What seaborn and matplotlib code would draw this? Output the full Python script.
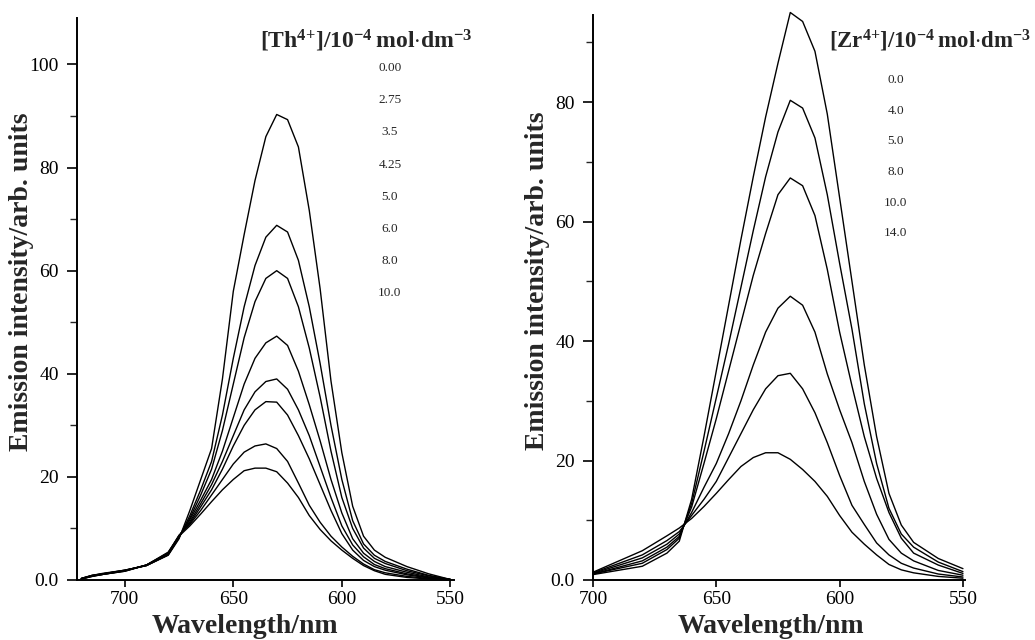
import matplotlib
matplotlib.use("Agg")
import matplotlib.pyplot as plt
import seaborn as sns
import pandas as pd
from matplotlib.ticker import MultipleLocator, FuncFormatter

# wavelength grids (nm)
wl_th = [720, 715, 710, 700, 690, 680, 675, 670, 665, 660, 655, 650, 645, 640, 635,
         630, 625, 620, 615, 610, 605, 600, 595, 590, 585, 580, 570, 560, 550]
wl_zr = [700, 690, 680, 670, 665, 660, 655, 650, 645, 640, 635, 630, 625,
         620, 615, 610, 605, 600, 595, 590, 585, 580, 575, 570, 560, 550]

# [Th4+] series
th_conc = ["0.00", "2.75", "3.5", "4.25", "5.0", "6.0", "8.0", "10.0"]
th_000 = [0.3, 0.9, 1.3, 1.9, 2.8, 4.8, 8.0, 13.5, 19.5, 25.5, 39, 56, 67, 77.5, 86,
          90.3, 89.3, 84, 71.7, 56.5, 38.6, 24.7, 14.3, 8.5, 5.8, 4.4, 2.6, 1.2, 0.1]
th_275 = [0.3, 0.9, 1.2, 1.9, 2.8, 4.9, 8.2, 12.5, 17.5, 23, 32, 43, 53, 61, 66.5,
          68.8, 67.5, 62, 53, 42, 30, 19.5, 11.5, 7, 4.8, 3.6, 2.1, 0.9, 0.1]
th_350 = [0.3, 0.9, 1.2, 1.9, 2.8, 4.9, 8.3, 12, 16.5, 21.5, 29, 38, 47, 54, 58.5,
          60, 58.5, 53, 45, 35.5, 25, 16, 10, 6.2, 4.2, 3.2, 1.8, 0.8, 0.1]
th_425 = [0.3, 0.8, 1.2, 1.8, 2.9, 5.0, 8.4, 11.7, 15.5, 19.5, 25, 31.5, 38, 43, 46,
          47.3, 45.5, 40.5, 34, 27, 19.5, 13, 8, 5.2, 3.6, 2.6, 1.5, 0.6, 0.1]
th_500 = [0.2, 0.8, 1.1, 1.8, 2.9, 5.1, 8.5, 11.3, 14.8, 18.5, 23, 28, 33, 36.5, 38.5,
          39, 37, 33, 28, 22, 16, 10.5, 6.8, 4.5, 3, 2.2, 1.2, 0.5, 0.1]
th_600 = [0.2, 0.8, 1.1, 1.8, 2.9, 5.2, 8.6, 11, 14.2, 17.5, 21.5, 26, 30, 33, 34.6,
          34.5, 32, 28, 23.5, 18.5, 13.5, 9, 5.8, 3.8, 2.6, 1.9, 1.0, 0.4, 0.1]
th_800 = [0.2, 0.7, 1.1, 1.7, 2.9, 5.3, 8.7, 10.8, 13.5, 16.5, 19.5, 22.5, 24.8, 26, 26.4,
          25.5, 23, 18.8, 14.5, 11.2, 8.5, 6.4, 4.6, 3.1, 2.0, 1.4, 0.7, 0.3, 0.0]
th_1000 = [0.2, 0.7, 1.1, 1.7, 2.9, 5.4, 8.5, 10.5, 12.8, 15.2, 17.5, 19.5, 21.2, 21.7, 21.7,
           21, 18.8, 16, 12.5, 9.8, 7.6, 5.8, 4.2, 2.8, 1.8, 1.1, 0.5, 0.2, 0.0]

# [Zr4+] series
zr_conc = ["0.0", "4.0", "5.0", "8.0", "10.0", "14.0"]
zr_00 = [0.9, 1.6, 2.3, 4.5, 6.5, 13.5, 24, 35, 46, 57, 67.5, 77.5, 86.5,
         95, 93.5, 88.5, 78, 64, 50, 36, 24, 14.5, 9.2, 6.3, 3.6, 1.9]
zr_40 = [1.0, 1.9, 2.8, 5.1, 7.0, 12.8, 21.5, 30.5, 39.5, 49, 58.5, 67.5, 75,
         80.3, 79, 74, 64.5, 53, 42, 29.5, 19.5, 12, 7.7, 5.5, 3.0, 1.4]
zr_50 = [1.0, 2.1, 3.2, 5.5, 7.3, 12.2, 19.5, 27, 35, 43, 51, 58, 64.5,
         67.3, 66, 61, 52, 41.5, 32.5, 24, 17, 11.3, 7, 4.5, 2.5, 1.1]
zr_80 = [1.1, 2.4, 3.7, 6.0, 7.7, 11.3, 15.5, 19.5, 24.5, 30, 36, 41.5, 45.5,
         47.5, 46, 41.5, 34.5, 28.5, 23, 16.5, 11, 6.8, 4.5, 3.2, 1.6, 0.8]
zr_100 = [1.2, 2.7, 4.2, 6.6, 8.1, 10.8, 13.5, 16.5, 20.5, 24.5, 28.5, 32, 34.2,
          34.6, 32, 28, 23, 17.5, 12.5, 9.3, 6.2, 4.2, 2.8, 2.0, 1.0, 0.5]
zr_140 = [1.3, 3.1, 4.9, 7.4, 8.7, 10.3, 12.3, 14.5, 16.8, 19, 20.5, 21.3, 21.3,
          20.2, 18.5, 16.5, 14, 10.8, 8, 6, 4.2, 2.6, 1.7, 1.2, 0.6, 0.3]


def to_long(wl, curves, conc):
    frames = []
    for c, vals in zip(conc, curves):
        frames.append(pd.DataFrame({"wavelength": wl, "intensity": vals, "conc": c}))
    return pd.concat(frames, ignore_index=True)


def style_axis(ax, xlim, ylim, xlabel_x):
    ax.set_xlim(*xlim)
    ax.set_ylim(*ylim)
    ax.xaxis.set_major_locator(MultipleLocator(50))
    ax.yaxis.set_major_locator(MultipleLocator(20))
    ax.yaxis.set_minor_locator(MultipleLocator(10))
    ax.yaxis.set_major_formatter(FuncFormatter(lambda v, p: "0.0" if v == 0 else f"{v:.0f}"))
    sns.despine(ax=ax)
    for s in ["left", "bottom"]:
        ax.spines[s].set_linewidth(1.4)
        ax.spines[s].set_color("black")
    ax.tick_params(axis="x", which="major", direction="out", length=5, width=1.2,
                   labelsize=14, colors="black", pad=3)
    ax.tick_params(axis="y", which="major", direction="out", length=7, width=1.2,
                   labelsize=14, colors="black", pad=6)
    ax.tick_params(axis="y", which="minor", direction="out", length=5, width=1.0)
    ax.set_xlabel("Wavelength/nm", fontsize=20, fontweight="bold")
    ax.set_ylabel("Emission intensity/arb. units", fontsize=20, fontweight="bold")
    ax.xaxis.set_label_coords(xlabel_x, -0.06)
    ax.yaxis.set_label_coords(-0.115, 0.53)


sns.set_theme(style="ticks")
plt.rcParams["font.family"] = ["Liberation Serif", "DejaVu Serif"]
plt.rcParams["mathtext.fontset"] = "custom"
plt.rcParams["mathtext.rm"] = "Liberation Serif"
plt.rcParams["mathtext.bf"] = "Liberation Serif:bold"

fig = plt.figure(figsize=(10.35, 6.4), dpi=100)
ax1 = fig.add_axes([0.0744, 0.09375, 0.3643, 0.878])
ax2 = fig.add_axes([0.5729, 0.09375, 0.3594, 0.883])

df_th = to_long(wl_th, [th_000, th_275, th_350, th_425, th_500, th_600, th_800, th_1000], th_conc)
df_zr = to_long(wl_zr, [zr_00, zr_40, zr_50, zr_80, zr_100, zr_140], zr_conc)

sns.lineplot(data=df_th, x="wavelength", y="intensity", hue="conc", estimator=None,
             palette=["black"] * len(th_conc), legend=False, linewidth=1.0, ax=ax1, clip_on=False)
sns.lineplot(data=df_zr, x="wavelength", y="intensity", hue="conc", estimator=None,
             palette=["black"] * len(zr_conc), legend=False, linewidth=1.0, ax=ax2, clip_on=False)

style_axis(ax1, (722, 548.3), (0, 109), 0.446)
style_axis(ax2, (700, 549.2), (0, 94.6), 0.478)

# concentration lists in place of a legend
ax1.text(0.485, 0.947, r"$\mathbf{[Th^{4{+}}]/10^{{-}4}\,mol{\cdot}dm^{{-}3}}$",
         transform=ax1.transAxes, fontsize=17, ha="left", va="baseline")
for i, c in enumerate(th_conc):
    ax1.text(0.83, 0.911 - i * 0.0573, c, transform=ax1.transAxes,
             fontsize=9.5, ha="center", va="center")

ax2.text(0.634, 0.9416, r"$\mathbf{[Zr^{4{+}}]/10^{{-}4}\,mol{\cdot}dm^{{-}3}}$",
         transform=ax2.transAxes, fontsize=16.4, ha="left", va="baseline")
for i, c in enumerate(zr_conc):
    ax2.text(0.8145, 0.885 - i * 0.0543, c, transform=ax2.transAxes,
             fontsize=9.5, ha="center", va="center")

fig.savefig("out.png", dpi=100)
